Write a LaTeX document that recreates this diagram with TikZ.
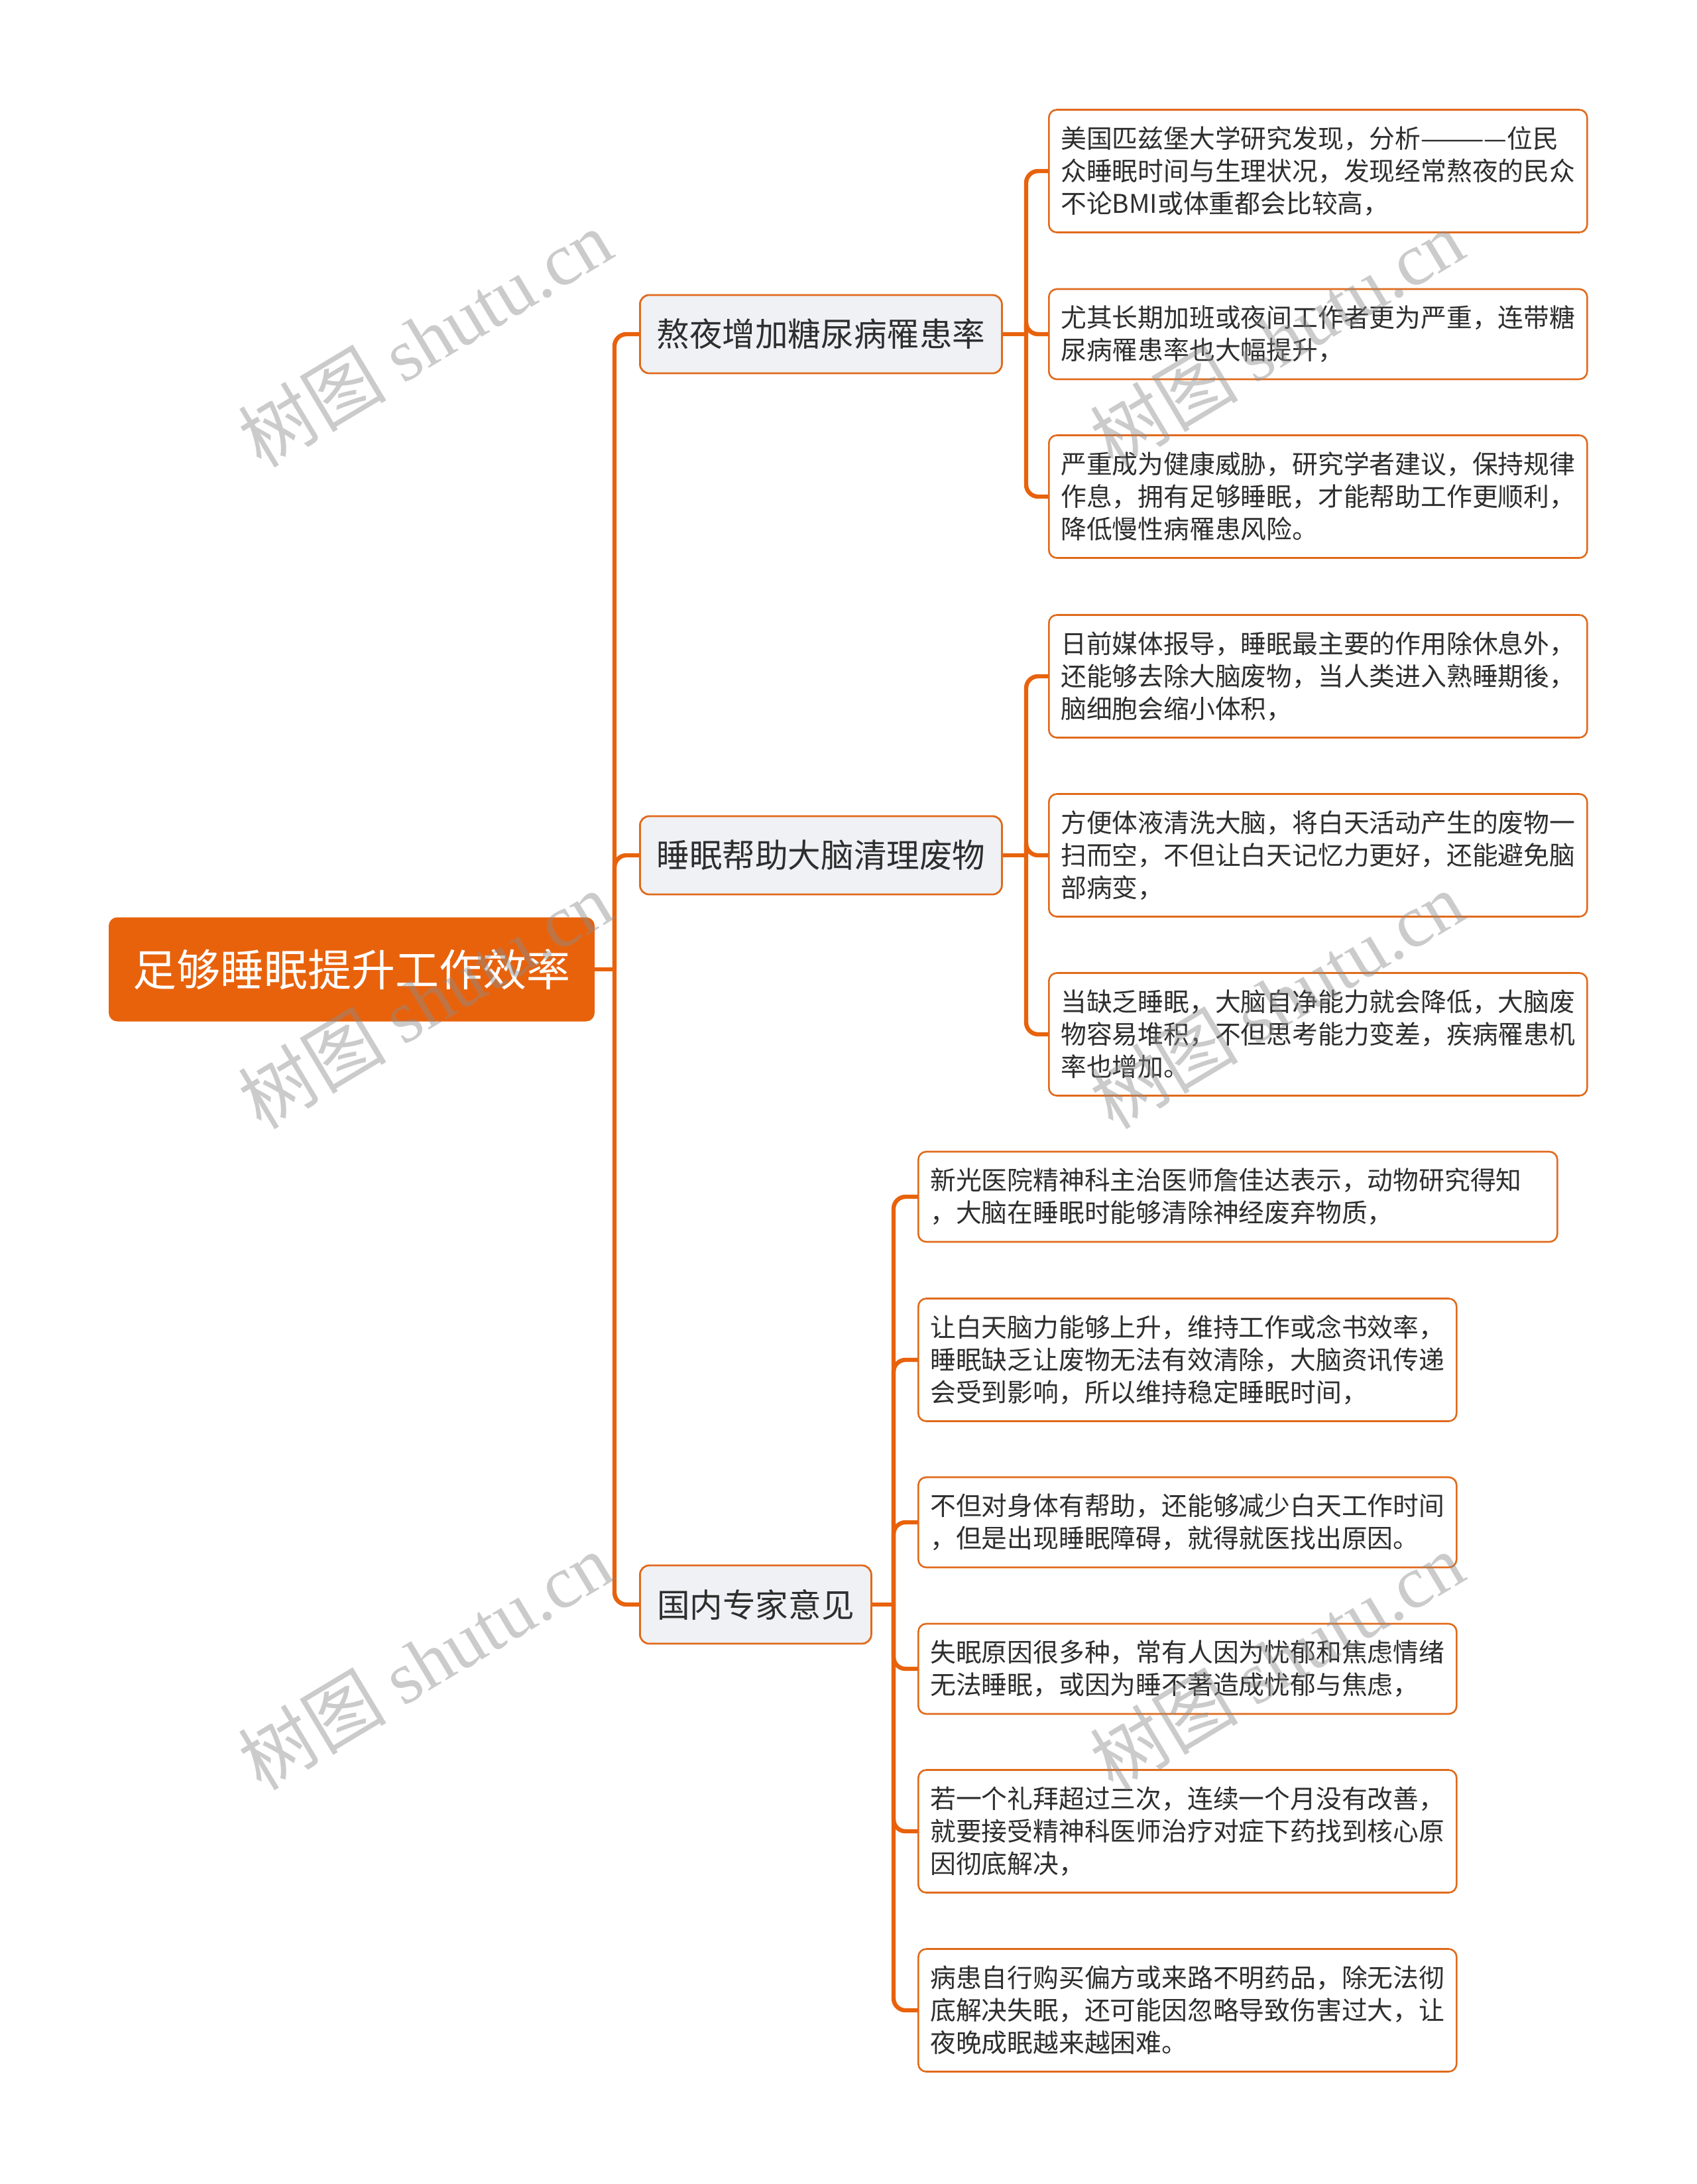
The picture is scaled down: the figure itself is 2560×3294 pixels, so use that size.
\documentclass[tikz,border=0pt]{standalone}
\usepackage{fontspec}
\setmainfont{Noto Sans CJK SC}
\newfontfamily\cjkfont{Noto Sans CJK SC}
\newfontfamily\wmserif{Liberation Serif}
\definecolor{org}{HTML}{E8620C}
\definecolor{orgline}{HTML}{E06A1C}
\definecolor{brfill}{HTML}{EFF1F4}
\definecolor{txt}{HTML}{2E2E2E}
\tikzset{
  conn/.style={draw=org, line width=3.2pt, rounded corners=9pt},
  rootbox/.style={fill=org, draw=org, line width=1pt, rounded corners=6pt, text=white, anchor=west, inner sep=0pt, font=\cjkfont\fontsize{33pt}{40pt}\selectfont},
  branch/.style={fill=brfill, draw=orgline, line width=1.4pt, rounded corners=7pt, text=txt, anchor=west, inner sep=0pt, font=\cjkfont\fontsize{24.8pt}{30pt}\selectfont},
  leaf/.style={fill=white, draw=orgline, line width=1.3pt, rounded corners=6pt, text=txt, anchor=west, align=left, inner xsep=9pt, inner ysep=0pt, font=\cjkfont\fontsize{19.4pt}{24.5pt}\selectfont},
  wm/.style={rotate=31, text=black!45, text opacity=0.45, inner sep=0pt}
}
\begin{document}
\begin{tikzpicture}[x=0.5pt,y=-0.5pt]
\useasboundingbox[fill=white] (0,0) rectangle (2560,3294);

% root and branches
\node[rootbox, minimum width=365.5pt, minimum height=77.5pt] (root) at (164,1462) {足够睡眠提升工作效率};
\node[branch, minimum width=273pt, minimum height=59pt] (b1) at (964,504) {熬夜增加糖尿病罹患率};
\node[branch, minimum width=273pt, minimum height=59pt] (b2) at (964,1290) {睡眠帮助大脑清理废物};
\node[branch, minimum width=174.5pt, minimum height=59pt] (b3) at (964,2420) {国内专家意见};

% leaves of b1
\node[leaf, text width=388pt, minimum height=92.5pt] (l1) at (1581,258) {美国匹兹堡大学研究发现，分析————位民\\众睡眠时间与生理状况，发现经常熬夜的民众\\不论BMI或体重都会比较高，};
\node[leaf, text width=388pt, minimum height=68pt] (l2) at (1581,504) {尤其长期加班或夜间工作者更为严重，连带糖\\尿病罹患率也大幅提升，};
\node[leaf, text width=388pt, minimum height=92.5pt] (l3) at (1581,749) {严重成为健康威胁，研究学者建议，保持规律\\作息，拥有足够睡眠，才能帮助工作更顺利，\\降低慢性病罹患风险。};

% leaves of b2
\node[leaf, text width=388pt, minimum height=92.5pt] (l4) at (1581,1020) {日前媒体报导，睡眠最主要的作用除休息外，\\还能够去除大脑废物，当人类进入熟睡期後，\\脑细胞会缩小体积，};
\node[leaf, text width=388pt, minimum height=92.5pt] (l5) at (1581,1290) {方便体液清洗大脑，将白天活动产生的废物一\\扫而空，不但让白天记忆力更好，还能避免脑\\部病变，};
\node[leaf, text width=388pt, minimum height=92.5pt] (l6) at (1581,1560) {当缺乏睡眠，大脑自净能力就会降低，大脑废\\物容易堆积，不但思考能力变差，疾病罹患机\\率也增加。};

% leaves of b3
\node[leaf, text width=464pt, minimum height=68pt] (l7) at (1384,1805) {新光医院精神科主治医师詹佳达表示，动物研究得知\\，大脑在睡眠时能够清除神经废弃物质，};
\node[leaf, text width=388pt, minimum height=92.5pt] (l8) at (1384,2051) {让白天脑力能够上升，维持工作或念书效率，\\睡眠缺乏让废物无法有效清除，大脑资讯传递\\会受到影响，所以维持稳定睡眠时间，};
\node[leaf, text width=388pt, minimum height=68pt] (l9) at (1384,2296) {不但对身体有帮助，还能够减少白天工作时间\\，但是出现睡眠障碍，就得就医找出原因。};
\node[leaf, text width=388pt, minimum height=68pt] (l10) at (1384,2517) {失眠原因很多种，常有人因为忧郁和焦虑情绪\\无法睡眠，或因为睡不著造成忧郁与焦虑，};
\node[leaf, text width=388pt, minimum height=92.5pt] (l11) at (1384,2762) {若一个礼拜超过三次，连续一个月没有改善，\\就要接受精神科医师治疗对症下药找到核心原\\因彻底解决，};
\node[leaf, text width=388pt, minimum height=92.5pt] (l12) at (1384,3032) {病患自行购买偏方或来路不明药品，除无法彻\\底解决失眠，还可能因忽略导致伤害过大，让\\夜晚成眠越来越困难。};

% junctions
\coordinate (t0) at (927,1462);
\coordinate (s1) at (1548,504);
\coordinate (s2) at (1548,1290);
\coordinate (s3) at (1348,2420);

% connectors root -> branches
\draw[conn] (root.east) -- (t0);
\draw[conn] (t0) |- (b1.west);
\draw[conn] (t0) |- (b2.west);
\draw[conn] (t0) |- (b3.west);

% b1 -> leaves
\draw[conn] (b1.east) -- (s1);
\draw[conn] (s1) |- (l1.west);
\draw[conn] (s1) |- (l2.west);
\draw[conn] (s1) |- (l3.west);

% b2 -> leaves
\draw[conn] (b2.east) -- (s2);
\draw[conn] (s2) |- (l4.west);
\draw[conn] (s2) |- (l5.west);
\draw[conn] (s2) |- (l6.west);

% b3 -> leaves
\draw[conn] (b3.east) -- (s3);
\draw[conn] (s3) |- (l7.west);
\draw[conn] (s3) |- (l8.west);
\draw[conn] (s3) |- (l9.west);
\draw[conn] (s3) |- (l10.west);
\draw[conn] (s3) |- (l11.west);
\draw[conn] (s3) |- (l12.west);

% watermarks
\foreach \wx/\wy/\wn in {641/510/w1, 641/1508/w2, 641/2505/w3, 1926/510/w4, 1926/1508/w5, 1926/2505/w6}{
  \node[wm] (\wn) at (\wx,\wy) {\cjkfont\fontsize{56pt}{62pt}\selectfont 树图 \wmserif shutu.cn};
}
\end{tikzpicture}
\end{document}
